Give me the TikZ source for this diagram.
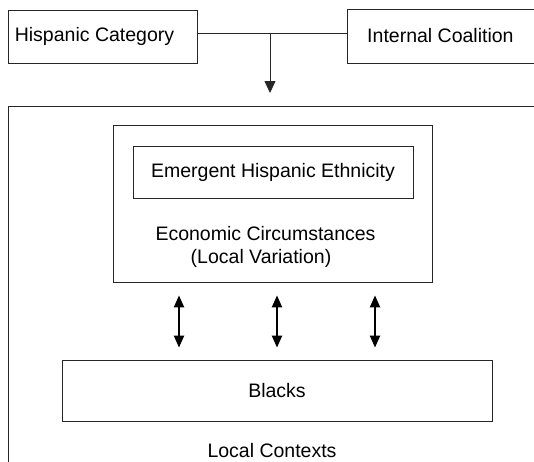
\documentclass[tikz,border=0pt]{standalone}
\usepackage{fontspec}
\setmainfont{Liberation Sans}
\usetikzlibrary{arrows.meta}
\begin{document}
\begin{tikzpicture}[x=1pt,y=-1pt,
  every node/.style={font=\fontsize{19.5}{23}\selectfont, text=black},
  box/.style={draw=black!85, line width=0.8pt, inner sep=0pt},
  thinline/.style={draw=black!85, line width=0.8pt},
  downarrow/.style={thinline, -{Triangle[width=11pt,length=12pt]}},
  dblarrow/.style={draw=black, line width=2.2pt, {Triangle[width=10pt,length=12pt]}-{Triangle[width=10pt,length=12pt]}}]
\useasboundingbox (0,0) rectangle (534,461);
\clip (0,0) rectangle (534,461);
\fill[white] (0,0) rectangle (534,461);
% top boxes
\node[box, minimum width=189pt, minimum height=53pt] (hc) at (102.5,36.5) {Hispanic Category\hspace*{16pt}};
\node[box, minimum width=200pt, minimum height=54pt, anchor=west] (ic) at (347,36) {Internal Coalition\hspace*{14pt}};
% local contexts frame
\node[box, minimum width=560pt, minimum height=380pt, anchor=north west] (lc) at (8,106) {};
\node[inner sep=0pt] (lclabel) at (272,451) {Local Contexts};
% economic circumstances box
\node[box, minimum width=319pt, minimum height=157pt] (econ) at (272.5,203.5) {};
\node[box, minimum width=280pt, minimum height=52pt] (emerg) at (273,172) {Emergent Hispanic Ethnicity};
\node (econ1) at (265.5,234) {Economic Circumstances};
\node (econ2) at (261,258) {(Local Variation)};
% blacks
\node[box, minimum width=430pt, minimum height=61pt] (blacks) at (277,390.5) {Blacks};
% connectors
\coordinate (j) at (270,33);
\draw[thinline] (hc.east |- j) -- (ic.west |- j);
\draw[downarrow] (j) -- ([yshift=13pt]lc.north -| j);
\coordinate (a1) at (179,0);
\coordinate (a2) at (277,0);
\coordinate (a3) at (375,0);
\foreach \a in {a1,a2,a3}{
  \draw[dblarrow, shorten <=13pt, shorten >=12pt] (\a |- econ.south) -- (\a |- blacks.north);
}
\end{tikzpicture}
\end{document}
